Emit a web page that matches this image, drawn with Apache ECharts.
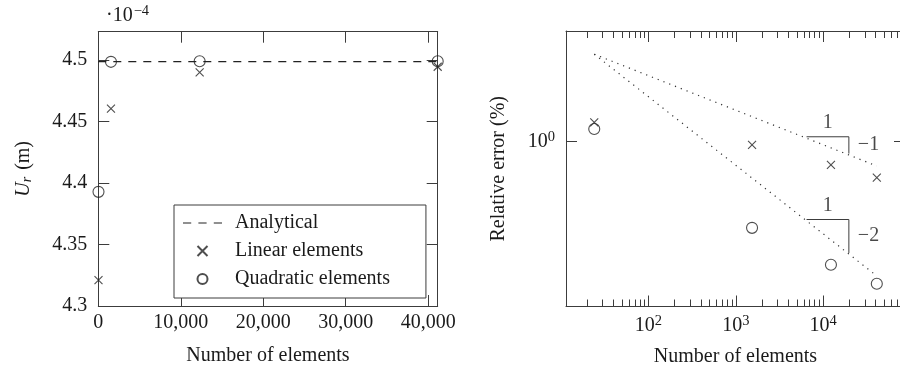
<!DOCTYPE html>
<html><head><meta charset="utf-8">
<script src="https://cdn.jsdelivr.net/npm/echarts@6/dist/echarts.min.js"></script>
<style>html,body{margin:0;padding:0;background:#fff}#c{width:900px;height:370px}</style>
</head><body><div id="c"></div>
<script>
// ---- data ----
const nElements = [24, 1536, 12288, 41150];
const linearU = [4.3211, 4.4605, 4.4900, 4.4945];      // x 1e-4 m
const quadraticU = [4.3928, 4.4985, 4.4990, 4.4990];   // x 1e-4 m
const analyticalN = [0, 41150];
const analyticalU = [4.4987, 4.4987];
const linearErr = [3.61, 0.807, 0.212, 0.091];          // %
const quadraticErr = [2.31, 0.0032, 0.000275, 0.0000771];
const slopeN = [24, 41150];
const slope1Err = [338, 0.197];
const slope2Err = [338, 0.00013];
const triN = [6460, 19700, 19700];
const tri1Err = [1.38, 1.38, 0.45];
const tri2Err = [0.00558, 0.00558, 0.000601];
const tri1LabelPts = [[11300, 1.38, '1'], [19700, 0.79, '\u22121']];
const tri2LabelPts = [[11300, 0.00558, '1'], [19700, 0.00183, '\u22122']];
const xTicksLin = [0, 10000, 20000, 30000, 40000];
const yTicksLin = [4.3, 4.35, 4.4, 4.45, 4.5];
const xTicksLog = [100, 1000, 10000];
const xMinorLog = [20, 30, 40, 50, 60, 70, 80, 90,
  200, 300, 400, 500, 600, 700, 800, 900,
  2000, 3000, 4000, 5000, 6000, 7000, 8000, 9000,
  20000, 30000, 40000, 50000, 60000, 70000, 80000];
const yTicksLog = [1];

// ---- style ----
const FONT = 'Liberation Serif';
const TXT = '#1a1a1a';
const FRAME = '#3c3c3c';
const FS = 20;
const pts = (xs, ys) => xs.map((x, i) => [x, ys[i]]);
const CROSS = 'path://M0,0L10,10M0,10L10,0';
const DASH_ICON = 'path://M0,0h8v1.2h-8zM15,0h8v1.2h-8zM30,0h8v1.2h-8z';
const supRich = {
  b: { fontFamily: FONT, fontSize: FS, color: TXT },
  s: { fontFamily: FONT, fontSize: 14.5, color: TXT, padding: [0, 0, 9, 0] }
};
const pow10 = v => '{b|10}{s|' + String(Math.round(Math.log10(v))).replace('-', '\u2212') + '}';
const fmtLin = v => String(v).replace(/\B(?=(\d{3})+(?!\d))/g, ',');

function linAxis(grid, pos, extra) {
  return Object.assign({
    type: 'value', gridIndex: grid, position: pos,
    axisLine: { show: true, onZero: false, lineStyle: { color: FRAME, width: 1 } },
    axisTick: { show: true, inside: true, length: 11, lineStyle: { color: FRAME, width: 1 } },
    axisLabel: { show: false },
    splitLine: { show: false }
  }, extra);
}

const chart = echarts.init(document.getElementById('c'), null, { renderer: 'canvas' });
const labelStyle = { fontFamily: FONT, fontSize: FS, color: TXT };

const option = {
  animation: false,
  backgroundColor: '#fff',
  textStyle: { fontFamily: FONT, color: TXT },
  grid: [
    { left: 98.3, top: 31.7, right: 462.3, bottom: 64, outerBoundsMode: 'none', containLabel: false },
    { left: 566, top: 31, right: -5, bottom: 63.5, outerBoundsMode: 'none', containLabel: false }
  ],
  xAxis: [
    linAxis(0, 'bottom', {
      min: 0, max: 41150,
      axisTick: { show: true, inside: true, length: 11, customValues: xTicksLin, lineStyle: { color: FRAME } },
      axisLabel: Object.assign({ show: true, margin: 7, customValues: xTicksLin, formatter: fmtLin }, labelStyle),
      name: 'Number of elements', nameLocation: 'middle', nameGap: 40, nameTextStyle: labelStyle
    }),
    linAxis(0, 'top', {
      min: 0, max: 41150,
      axisTick: { show: true, inside: true, length: 11, customValues: xTicksLin, lineStyle: { color: FRAME } }
    }),
    {
      type: 'log', logBase: 10, gridIndex: 1, position: 'bottom', min: 11.4, max: 86500,
      axisLine: { show: true, onZero: false, lineStyle: { color: FRAME } },
      axisTick: { show: true, inside: true, length: 11, customValues: xTicksLog, lineStyle: { color: FRAME } },
      axisLabel: { show: true, margin: 7, customValues: xTicksLog, formatter: pow10, rich: supRich },
      splitLine: { show: false }, minorTick: { show: false },
      name: 'Number of elements', nameLocation: 'middle', nameGap: 40, nameTextStyle: labelStyle
    },
    {
      type: 'log', logBase: 10, gridIndex: 1, position: 'bottom', min: 11.4, max: 86500,
      axisLine: { show: false },
      axisTick: { show: true, inside: true, length: 7, customValues: xMinorLog, lineStyle: { color: FRAME } },
      axisLabel: { show: false }, splitLine: { show: false }
    },
    {
      type: 'log', logBase: 10, gridIndex: 1, position: 'top', min: 11.4, max: 86500,
      axisLine: { show: true, onZero: false, lineStyle: { color: FRAME } },
      axisTick: { show: true, inside: true, length: 11, customValues: xTicksLog, lineStyle: { color: FRAME } },
      axisLabel: { show: false }, splitLine: { show: false }
    },
    {
      type: 'log', logBase: 10, gridIndex: 1, position: 'top', min: 11.4, max: 86500,
      axisLine: { show: false },
      axisTick: { show: true, inside: true, length: 7, customValues: xMinorLog, lineStyle: { color: FRAME } },
      axisLabel: { show: false }, splitLine: { show: false }
    }
  ],
  yAxis: [
    linAxis(0, 'left', {
      min: 4.3, max: 4.523,
      axisTick: { show: true, inside: true, length: 11, customValues: yTicksLin, lineStyle: { color: FRAME } },
      axisLabel: Object.assign({ show: true, margin: 11, customValues: yTicksLin, formatter: v => String(+(+v).toFixed(2)) }, labelStyle),
      name: '{i|U}{sub|r} (m)', nameLocation: 'middle', nameGap: 64,
      nameTextStyle: Object.assign({}, labelStyle, {
        rich: {
          i: { fontFamily: FONT, fontSize: FS, fontStyle: 'italic', color: TXT },
          sub: { fontFamily: FONT, fontSize: 14, fontStyle: 'italic', color: TXT, padding: [8, 2, 0, 0] }
        }
      })
    }),
    linAxis(0, 'right', {
      min: 4.3, max: 4.523,
      axisTick: { show: true, inside: true, length: 11, customValues: yTicksLin, lineStyle: { color: FRAME } }
    }),
    {
      type: 'log', logBase: 10, gridIndex: 1, position: 'left', min: 1.698e-5, max: 1585,
      axisLine: { show: true, onZero: false, lineStyle: { color: FRAME } },
      axisTick: { show: true, inside: true, length: 11, customValues: yTicksLog, lineStyle: { color: FRAME } },
      axisLabel: { show: true, margin: 11, customValues: yTicksLog, formatter: pow10, rich: supRich },
      splitLine: { show: false },
      name: 'Relative error (%)', nameLocation: 'middle', nameGap: 57, nameTextStyle: labelStyle
    },
    {
      type: 'log', logBase: 10, gridIndex: 1, position: 'right', min: 1.698e-5, max: 1585,
      axisLine: { show: true, onZero: false, lineStyle: { color: FRAME } },
      axisTick: { show: true, inside: true, length: 11, customValues: yTicksLog, lineStyle: { color: FRAME } },
      axisLabel: { show: false }, splitLine: { show: false }
    }
  ],
  legend: {
    orient: 'vertical', left: 174, top: 205,
    padding: [8, 36, 9, 9], itemGap: 8, itemWidth: 39, itemHeight: 10,
    backgroundColor: '#fff', borderColor: FRAME, borderWidth: 1, borderRadius: 0,
    selectedMode: false,
    textStyle: { fontFamily: FONT, fontSize: FS, color: TXT, padding: [0, 0, 0, 8] },
    data: [
      { name: 'Analytical', icon: DASH_ICON, itemStyle: { color: '#222', borderWidth: 0 } },
      'Linear elements',
      'Quadratic elements'
    ]
  },
  graphic: [
    {
      type: 'text', left: 106, top: 4, silent: true,
      style: {
        text: '\u00b710{s|\u22124}', fontFamily: FONT, fontSize: FS, fill: TXT,
        rich: { s: { fontFamily: FONT, fontSize: 14.5, fill: TXT, padding: [0, 0, 9, 1] } }
      }
    }
  ],
  series: [
    {
      name: 'Analytical', type: 'line', xAxisIndex: 0, yAxisIndex: 0,
      data: pts(analyticalN, analyticalU), symbol: 'none', showSymbol: false, silent: true,
      itemStyle: { color: '#222' },
      lineStyle: { color: '#222', width: 1.1, type: [8, 7] }, z: 2
    },
    {
      name: 'Linear elements', type: 'scatter', xAxisIndex: 0, yAxisIndex: 0,
      data: pts(nElements, linearU), symbol: CROSS, symbolSize: 8, silent: true,
      itemStyle: { color: 'transparent', borderColor: '#222', borderWidth: 1.1 }, z: 3
    },
    {
      name: 'Quadratic elements', type: 'scatter', xAxisIndex: 0, yAxisIndex: 0,
      data: pts(nElements, quadraticU), symbol: 'circle', symbolSize: 11, silent: true,
      itemStyle: { color: 'transparent', borderColor: '#222', borderWidth: 1.1 }, z: 3
    },
    {
      name: 'Linear error', type: 'scatter', xAxisIndex: 2, yAxisIndex: 2,
      data: pts(nElements, linearErr), symbol: CROSS, symbolSize: 8, silent: true,
      itemStyle: { color: 'transparent', borderColor: '#222', borderWidth: 1.1 }, z: 3
    },
    {
      name: 'Quadratic error', type: 'scatter', xAxisIndex: 2, yAxisIndex: 2,
      data: pts(nElements, quadraticErr), symbol: 'circle', symbolSize: 11, silent: true,
      itemStyle: { color: 'transparent', borderColor: '#222', borderWidth: 1.1 }, z: 3
    },
    {
      name: 'Slope -1', type: 'line', xAxisIndex: 2, yAxisIndex: 2, symbol: 'none', silent: true,
      data: pts(slopeN, slope1Err), lineStyle: { color: '#333', width: 1.2, type: [1.2, 5] }
    },
    {
      name: 'Slope -2', type: 'line', xAxisIndex: 2, yAxisIndex: 2, symbol: 'none', silent: true,
      data: pts(slopeN, slope2Err), lineStyle: { color: '#333', width: 1.2, type: [1.2, 5] }
    },
    {
      name: 'Triangle 1', type: 'line', xAxisIndex: 2, yAxisIndex: 2, symbol: 'none', silent: true,
      data: pts(triN, tri1Err), lineStyle: { color: FRAME, width: 1 }
    },
    {
      name: 'Triangle 2', type: 'line', xAxisIndex: 2, yAxisIndex: 2, symbol: 'none', silent: true,
      data: pts(triN, tri2Err), lineStyle: { color: FRAME, width: 1 }
    },
    {
      name: 'Triangle labels', type: 'scatter', xAxisIndex: 2, yAxisIndex: 2, symbolSize: 0, silent: true,
      data: tri1LabelPts.concat(tri2LabelPts).map((p, i) => ({
        value: [p[0], p[1]],
        label: {
          show: true, formatter: p[2], position: i % 2 === 0 ? 'top' : 'right',
          distance: i % 2 === 0 ? 4 : 9, fontFamily: FONT, fontSize: FS, color: TXT
        }
      }))
    }
  ]
};
chart.setOption(option);
</script>
</body></html>
